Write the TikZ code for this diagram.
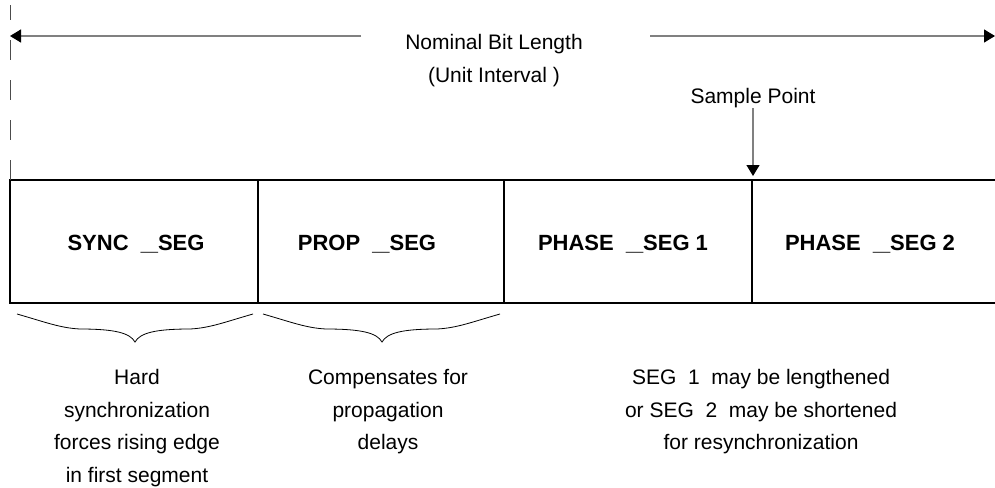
\documentclass[tikz,border=0pt]{standalone}
\usepackage{fontspec}
\usepackage{graphicx}
\setmainfont{Liberation Sans}
\usetikzlibrary{arrows.meta}
\tikzstyle{segline}=[draw=black,line width=1pt]
\tikzstyle{seglabel}=[inner sep=0pt,anchor=base,
                      font=\fontsize{11}{12}\selectfont\bfseries]
\tikzstyle{note}=[inner sep=0pt,align=center,
                  font=\fontsize{10.5}{16.25}\selectfont]
\tikzstyle{dimarrow}=[draw=black!50,line width=0.65pt,
                      -{Triangle[length=5.5pt,width=6.5pt,color=black]}]
\tikzstyle{dashline}=[draw=black!70,line width=0.5pt,
                      dash pattern=on 10pt off 10pt,dash phase=2.5pt]
\tikzstyle{brc}=[draw=black,line width=0.4pt]

\begin{document}
\begin{tikzpicture}[x=0.5pt,y=-0.5pt]
    \newcommand{\usc}{\scalebox{1.4}[1]{\_}}
    \newcommand{\curly}[3]{%
      \draw[brc] (#1,314) .. controls (#1+28,322) and (#1+43,328) .. (#1+63,329)
        .. controls (#2-20,329) and (#2-5,333) .. (#2,342)
        .. controls (#2+5,333) and (#2+20,329) .. (#3-63,329)
        .. controls (#3-43,328) and (#3-28,322) .. (#3,314);}
    \useasboundingbox (0,0) rectangle (995,487);
    % the bit and its four segments
    \coordinate (tl) at (10,180);
    \coordinate (tr) at (995,180);
    \coordinate (bl) at (10,303);
    \coordinate (br) at (995,303);
    \draw[segline] (tr) -- (tl) -- (bl) -- (br);
    \draw[segline] (258,180) -- (258,303);
    \draw[segline] (504,180) -- (504,303);
    \draw[segline] (752,180) -- (752,303);
    \node (sync)   at (136,250) [seglabel]{SYNC~~\usc SEG};
    \node (prop)   at (367,250) [seglabel]{PROP~~\usc SEG};
    \node (phase1) at (623,250) [seglabel]{PHASE~~\usc SEG 1};
    \node (phase2) at (870,250) [seglabel]{PHASE~~\usc SEG 2};
    % nominal bit length
    \coordinate (dtop) at (10,5);
    \draw[dashline] (dtop) -- (tl);
    \node (nbl) at (494,34) [note,anchor=north]{Nominal Bit Length\\(Unit Interval )};
    \coordinate (nl) at (361,36);
    \coordinate (nlend) at (10,36);
    \coordinate (nr) at (650,36);
    \coordinate (nrend) at (995,36);
    \draw[dimarrow] (nl) -- (nlend);
    \draw[dimarrow] (nr) -- (nrend);
    % sample point
    \node (sp) at (753,103.5) [note,anchor=base]{Sample Point};
    \coordinate (sptip) at (753,176);
    \draw[dimarrow] (sp.south) -- (sptip);
    % braces and notes
    \curly{17}{135}{253}
    \curly{263}{382}{500}
    \node (hard) at (137,369) [note,anchor=north]{Hard\\synchronization\\forces rising edge\\in first segment};
    \node (comp) at (388,369) [note,anchor=north]{Compensates for\\propagation\\delays};
    \node (resync) at (761,369) [note,anchor=north]{SEG~~1~~may be lengthened\\or SEG~~2~~may be shortened\\for resynchronization};
\end{tikzpicture}
\end{document}
